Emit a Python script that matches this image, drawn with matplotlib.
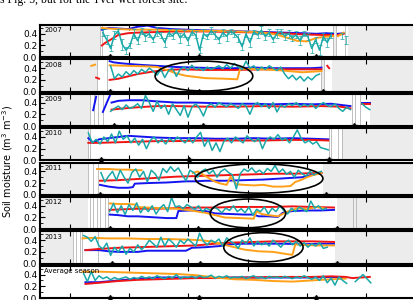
import matplotlib
matplotlib.use('Agg')
import matplotlib.pyplot as plt
from matplotlib.patches import Ellipse
from matplotlib.ticker import MultipleLocator, FixedLocator
import numpy as np

# ---------------- data (x = day of year) ----------------
years = ["2007", "2008", "2009", "2010", "2011", "2012", "2013", "Average season"]

# 2007
b07_x = [93, 100, 110, 120, 130, 140, 150, 165, 180, 200, 220, 240, 260, 280, 300, 315, 325, 332]
b07_y = [0.47, 0.50, 0.49, 0.48, 0.52, 0.54, 0.50, 0.48, 0.47, 0.46, 0.45, 0.44, 0.43, 0.42, 0.41, 0.40, 0.41, 0.40]
r07_x = [93, 96, 100, 105, 110, 120, 130, 150, 170, 200, 230, 260, 280, 300, 320, 332]
r07_y = [0.20, 0.24, 0.28, 0.33, 0.38, 0.41, 0.42, 0.43, 0.44, 0.44, 0.43, 0.42, 0.41, 0.39, 0.38, 0.38]
o07_x = [93, 100, 110, 130, 150, 170, 190, 210, 230, 250, 265, 275, 285, 295, 305, 315, 325, 332]
o07_y = [0.50, 0.49, 0.48, 0.47, 0.47, 0.46, 0.45, 0.45, 0.44, 0.43, 0.41, 0.38, 0.33, 0.28, 0.27, 0.33, 0.35, 0.36]
t07_start, t07_step = 94, 4
t07_y = [0.42, 0.30, 0.15, 0.38, 0.45, 0.22, 0.12, 0.20, 0.40, 0.28, 0.45, 0.35,
         0.40, 0.30, 0.44, 0.38, 0.25, 0.42, 0.36, 0.45, 0.33, 0.40, 0.28, 0.43,
         0.38, 0.12, 0.40, 0.35, 0.45, 0.38, 0.30, 0.42, 0.36, 0.44, 0.40, 0.33,
         0.18, 0.40, 0.25, 0.43, 0.38, 0.46, 0.35, 0.42, 0.30, 0.40, 0.44, 0.36,
         0.40, 0.33, 0.38, 0.28, 0.40, 0.35, 0.15, 0.30, 0.12, 0.35, 0.25, 0.38]
t07_err = [0.06, 0.08, 0.05, 0.07, 0.04, 0.09, 0.06, 0.05, 0.08, 0.06, 0.05, 0.07,
           0.06, 0.04, 0.08, 0.05, 0.07, 0.06, 0.05, 0.04, 0.08, 0.06, 0.07, 0.05,
           0.06, 0.05, 0.08, 0.04, 0.06, 0.07, 0.05, 0.06, 0.08, 0.04, 0.05, 0.07,
           0.06, 0.05, 0.08, 0.04, 0.06, 0.07, 0.05, 0.06, 0.04, 0.08, 0.05, 0.06,
           0.07, 0.05, 0.06, 0.08, 0.04, 0.06, 0.07, 0.05, 0.08, 0.06, 0.07, 0.05]
b07b_x, b07b_y = [337, 343], [0.40, 0.41]
r07b_x, r07b_y = [337, 343], [0.38, 0.40]
o07b_x, o07b_y = [337, 343], [0.36, 0.42]
t07b_x, t07b_y, t07b_e = [341, 345], [0.36, 0.30], [0.05, 0.07]

# 2008
b08_x = [101, 105, 115, 130, 150, 170, 190, 210, 230, 250, 270, 290, 310, 320]
b08_y = [0.52, 0.50, 0.48, 0.46, 0.44, 0.42, 0.41, 0.40, 0.40, 0.41, 0.40, 0.40, 0.40, 0.41]
r08_x = [101, 110, 120, 130, 145, 160, 175, 200, 230, 260, 290, 320]
r08_y = [0.20, 0.22, 0.26, 0.30, 0.34, 0.37, 0.38, 0.37, 0.37, 0.38, 0.38, 0.38]
r08b_x, r08b_y = [87, 90], [0.24, 0.22]
r08c_x, r08c_y = [326, 328], [0.44, 0.40]
o08_x = [101, 120, 140, 150, 160, 170, 180, 200, 220, 233, 236, 240, 260, 280, 300, 320]
o08_y = [0.45, 0.44, 0.43, 0.42, 0.37, 0.31, 0.27, 0.23, 0.22, 0.21, 0.40, 0.39, 0.38, 0.36, 0.33, 0.35]
o08b_x, o08b_y = [82, 86], [0.44, 0.46]
t08_start, t08_step = 102, 4
t08_y = [0.44, 0.22, 0.30, 0.25, 0.34, 0.28, 0.36, 0.30, 0.38, 0.33,
         0.40, 0.35, 0.28, 0.38, 0.24, 0.36, 0.40, 0.26, 0.38, 0.42,
         0.36, 0.45, 0.38, 0.40, 0.36, 0.42, 0.38, 0.41, 0.44, 0.39,
         0.46, 0.40, 0.48, 0.42, 0.38, 0.52, 0.40, 0.44, 0.36, 0.42,
         0.38, 0.44, 0.40, 0.36, 0.42, 0.30, 0.22, 0.28, 0.20, 0.26,
         0.18, 0.25, 0.20, 0.27, 0.30]

# 2009
b09a_x, b09a_y = [84, 87], [0.27, 0.50]
b09b_x, b09b_y = [94, 102], [0.24, 0.55]
b09_x = [103, 110, 120, 135, 150, 170, 190, 210, 230, 250, 270, 290, 310, 330, 350]
b09_y = [0.40, 0.43, 0.44, 0.44, 0.42, 0.40, 0.40, 0.39, 0.38, 0.38, 0.37, 0.38, 0.37, 0.38, 0.34]
b09c_x, b09c_y = [362, 370], [0.40, 0.40]
r09_x = [103, 115, 130, 150, 170, 200, 230, 260, 290, 320, 340, 350]
r09_y = [0.28, 0.30, 0.32, 0.34, 0.34, 0.33, 0.33, 0.34, 0.33, 0.34, 0.33, 0.30]
r09c_x, r09c_y = [362, 370], [0.37, 0.37]
t09_start, t09_step = 102, 4
t09_y = [0.25, 0.30, 0.34, 0.28, 0.36, 0.30, 0.33, 0.38, 0.30, 0.52,
         0.40, 0.25, 0.42, 0.30, 0.36, 0.20, 0.38, 0.28, 0.18, 0.35,
         0.15, 0.32, 0.38, 0.30, 0.17, 0.34, 0.38, 0.32, 0.40, 0.36,
         0.33, 0.38, 0.35, 0.30, 0.38, 0.34, 0.20, 0.36, 0.40, 0.33,
         0.38, 0.30, 0.40, 0.24, 0.36, 0.32, 0.38, 0.35, 0.40, 0.33,
         0.37, 0.34, 0.38, 0.30, 0.36, 0.40, 0.35, 0.33, 0.38, 0.30,
         0.25, 0.32, 0.28]
t09c_x, t09c_y = [362, 366, 370], [0.38, 0.32, 0.28]

# 2010
b10_x = [79, 84, 90, 100, 110, 120, 130, 150, 170, 190, 210, 230, 250, 270, 290, 310, 327]
b10_y = [0.38, 0.30, 0.36, 0.38, 0.40, 0.42, 0.41, 0.39, 0.38, 0.38, 0.37, 0.37, 0.38, 0.37, 0.38, 0.37, 0.36]
r10_x = [79, 90, 110, 130, 150, 170, 200, 230, 260, 290, 310, 327]
r10_y = [0.30, 0.30, 0.31, 0.32, 0.33, 0.33, 0.34, 0.34, 0.34, 0.35, 0.35, 0.34]
t10_start, t10_step = 79, 4
t10_y = [0.47, 0.30, 0.36, 0.28, 0.40, 0.32, 0.45, 0.30, 0.50, 0.36,
         0.42, 0.30, 0.38, 0.26, 0.36, 0.20, 0.34, 0.40, 0.30, 0.36,
         0.28, 0.38, 0.32, 0.40, 0.35, 0.30, 0.38, 0.30, 0.40, 0.48,
         0.24, 0.36, 0.17, 0.30, 0.15, 0.32, 0.38, 0.30, 0.40, 0.35,
         0.30, 0.42, 0.36, 0.32, 0.38, 0.20, 0.35, 0.40, 0.36, 0.44,
         0.35, 0.38, 0.30, 0.40, 0.52, 0.38, 0.30, 0.34, 0.28, 0.32,
         0.22, 0.20, 0.18]

# 2011
b11_x = [91, 100, 110, 120, 125, 127, 140, 160, 180, 190, 200, 220, 240, 260, 280, 300, 310, 320]
b11_y = [0.17, 0.14, 0.12, 0.12, 0.13, 0.19, 0.20, 0.21, 0.23, 0.23, 0.24, 0.24, 0.25, 0.26, 0.28, 0.30, 0.34, 0.37]
r11_x = [91, 110, 130, 150, 170, 190, 210, 230, 250, 270, 290, 310, 320]
r11_y = [0.24, 0.25, 0.27, 0.29, 0.31, 0.32, 0.33, 0.34, 0.35, 0.36, 0.36, 0.37, 0.37]
o11a_x = [88, 100, 110, 120, 130, 134]
o11a_y = [0.44, 0.44, 0.43, 0.43, 0.42, 0.42]
o11b_x = [187, 192, 196, 202, 208, 214, 219, 222, 226, 232, 240, 250, 260, 270, 280, 288, 293, 300, 305, 312, 320]
o11b_y = [0.37, 0.40, 0.36, 0.30, 0.24, 0.20, 0.18, 0.17, 0.31, 0.18, 0.17, 0.16, 0.17, 0.14, 0.14, 0.15, 0.22, 0.26, 0.30, 0.34, 0.37]
t11_start, t11_step = 92, 4
t11_y = [0.38, 0.22, 0.32, 0.40, 0.25, 0.42, 0.30, 0.20, 0.38, 0.44,
         0.30, 0.40, 0.22, 0.42, 0.36, 0.25, 0.45, 0.38, 0.48, 0.40,
         0.46, 0.34, 0.24, 0.42, 0.38, 0.30, 0.40, 0.44, 0.36, 0.42,
         0.30, 0.40, 0.44, 0.38, 0.34, 0.10, 0.36, 0.44, 0.40, 0.46,
         0.38, 0.42, 0.36, 0.45, 0.40, 0.50, 0.38, 0.44, 0.35, 0.40,
         0.30, 0.42, 0.36, 0.32, 0.40, 0.34, 0.38, 0.40]

# 2012
b12_x = [101, 110, 120, 130, 140, 150, 160, 170, 172, 185, 200, 210, 225, 240, 250, 255, 265, 275, 280, 290, 305, 320, 333]
b12_y = [0.25, 0.24, 0.22, 0.22, 0.21, 0.20, 0.19, 0.19, 0.31, 0.32, 0.31, 0.27, 0.26, 0.25, 0.25, 0.22, 0.22, 0.21, 0.28, 0.31, 0.32, 0.32, 0.33]
r12_x = [101, 115, 130, 150, 170, 190, 210, 230, 250, 270, 290, 310, 333]
r12_y = [0.33, 0.34, 0.35, 0.35, 0.36, 0.37, 0.37, 0.38, 0.38, 0.38, 0.39, 0.38, 0.37]
o12a_x = [101, 110, 120, 128]
o12a_y = [0.44, 0.43, 0.43, 0.42]
o12b_x = [128, 140, 155, 170, 185, 200, 210, 220, 235, 250, 253, 258, 265, 275, 285, 295, 305, 315, 322]
o12b_y = [0.38, 0.37, 0.36, 0.35, 0.32, 0.28, 0.24, 0.20, 0.19, 0.18, 0.31, 0.26, 0.24, 0.22, 0.30, 0.36, 0.34, 0.38, 0.36]
t12_start, t12_step = 101, 4
t12_y = [0.30, 0.44, 0.28, 0.40, 0.25, 0.42, 0.32, 0.45, 0.28, 0.38,
         0.30, 0.40, 0.26, 0.36, 0.42, 0.30, 0.54, 0.38, 0.40, 0.35,
         0.42, 0.38, 0.34, 0.40, 0.30, 0.36, 0.32, 0.38, 0.34, 0.28,
         0.36, 0.32, 0.40, 0.30, 0.35, 0.28, 0.38, 0.24, 0.34, 0.30,
         0.38, 0.26, 0.36, 0.30, 0.40, 0.32, 0.26, 0.36, 0.30, 0.38,
         0.34, 0.30, 0.48, 0.36, 0.40, 0.33, 0.36]

# 2013
b13_x = [76, 90, 100, 110, 130, 140, 160, 180, 186, 200, 215, 225, 240, 260, 280, 300, 320, 333]
b13_y = [0.23, 0.23, 0.21, 0.20, 0.20, 0.22, 0.22, 0.22, 0.27, 0.28, 0.30, 0.33, 0.34, 0.34, 0.34, 0.33, 0.34, 0.34]
r13_x = [76, 90, 110, 130, 150, 170, 190, 210, 230, 250, 270, 290, 310, 333]
r13_y = [0.23, 0.25, 0.27, 0.28, 0.29, 0.30, 0.31, 0.34, 0.36, 0.37, 0.38, 0.38, 0.38, 0.37]
o13_x = [73, 80, 100, 120, 140, 160, 180, 195, 205, 215, 225, 240, 255, 270, 285, 290, 293, 300, 315, 333]
o13_y = [0.43, 0.44, 0.43, 0.43, 0.42, 0.42, 0.41, 0.40, 0.38, 0.34, 0.30, 0.24, 0.21, 0.20, 0.16, 0.15, 0.33, 0.32, 0.31, 0.31]
t13_start, t13_step = 74, 4
t13_y = [0.48, 0.45, 0.38, 0.46, 0.30, 0.25, 0.35, 0.14, 0.28, 0.20,
         0.30, 0.16, 0.26, 0.20, 0.32, 0.24, 0.30, 0.40, 0.34, 0.28,
         0.45, 0.30, 0.42, 0.36, 0.28, 0.40, 0.34, 0.42, 0.36, 0.30,
         0.52, 0.38, 0.32, 0.40, 0.36, 0.42, 0.30, 0.44, 0.38, 0.34,
         0.26, 0.40, 0.34, 0.44, 0.30, 0.38, 0.32, 0.36, 0.30, 0.40,
         0.34, 0.28, 0.36, 0.40, 0.32, 0.38, 0.30, 0.36, 0.28, 0.34,
         0.30, 0.36, 0.26, 0.28]

# Average season
bav_x = [76, 90, 110, 130, 150, 170, 190, 210, 230, 250, 270, 290, 310, 330, 345]
bav_y = [0.27, 0.27, 0.30, 0.33, 0.35, 0.35, 0.35, 0.34, 0.35, 0.35, 0.35, 0.35, 0.35, 0.36, 0.35]
rav_x = [76, 90, 110, 130, 150, 170, 190, 210, 230, 250, 270, 290, 310, 330, 345, 352, 360, 370]
rav_y = [0.24, 0.26, 0.29, 0.31, 0.32, 0.33, 0.34, 0.34, 0.35, 0.35, 0.36, 0.36, 0.36, 0.37, 0.36, 0.34, 0.35, 0.36]
oav_x = [73, 90, 110, 130, 150, 170, 190, 210, 230, 250, 270, 290, 310, 330, 345]
oav_y = [0.45, 0.45, 0.44, 0.43, 0.42, 0.41, 0.39, 0.35, 0.32, 0.31, 0.29, 0.28, 0.30, 0.32, 0.33]
tav_start, tav_step = 74, 4
tav_y = [0.42, 0.28, 0.45, 0.30, 0.38, 0.33, 0.36, 0.31, 0.35, 0.32,
         0.34, 0.36, 0.32, 0.35, 0.33, 0.37, 0.34, 0.36, 0.33, 0.38,
         0.35, 0.33, 0.37, 0.34, 0.40, 0.33, 0.36, 0.35, 0.37, 0.34,
         0.38, 0.35, 0.36, 0.39, 0.34, 0.37, 0.35, 0.38, 0.34, 0.36,
         0.35, 0.37, 0.33, 0.36, 0.38, 0.34, 0.36, 0.33, 0.37, 0.35,
         0.36, 0.34, 0.37, 0.35, 0.33, 0.36, 0.34, 0.38, 0.35, 0.32,
         0.36, 0.30, 0.38, 0.26, 0.34, 0.22, 0.36, 0.30, 0.25]
tav2_x, tav2_y = [355, 359, 363, 367, 371], [0.28, 0.34, 0.40, 0.33, 0.26]

# grey (frozen / no data) periods, thin grey lines, stars, ellipses
grey_spans = [[(29, 91), (332, 335), (347, 480)],
              [(29, 88), (319.5, 323), (331, 480)],
              [(29, 81), (370, 480)],
              [(29, 79), (341, 480)],
              [(29, 79), (321.6, 480)],
              [(29, 79), (336, 480)],
              [(29, 63.5), (334, 480)],
              []]
grey_lines = [[91, 93, 332, 335, 344],
              [88, 98, 319.5, 323],
              [81, 85, 89, 94, 351.6, 354.7, 359.8],
              [79, 80.5, 327.8, 330, 337, 341],
              [79, 84, 89],
              [81, 84, 88, 91, 96, 99, 352.6, 355.7],
              [63.5, 66, 70, 72.5, 89],
              []]
stars = [[101.3, 193.4, 314.3],
         [101.3, 193.4, 321.6],
         [105.5, 197.5, 353.6],
         [92, 183, 327.8],
         [91, 183, 324.7],
         [101.3, 192.3, 336],
         [103.4, 194.4, 336],
         [101.3, 193.4, 314.3]]
ellipses = {1: (198.5, 0.265, 101, 0.51),
            4: (255.5, 0.278, 132, 0.50),
            5: (244.0, 0.270, 78, 0.49),
            6: (260.0, 0.278, 82, 0.50)}

BLUE = '#1414f0'
RED = '#f01414'
ORANGE = '#ffa018'
TEAL = '#1aa8a8'

def tx(start, step, vals):
    return np.arange(len(vals)) * step + start

panels = [
    dict(blue=[(b07_x, b07_y), (b07b_x, b07b_y)], red=[(r07_x, r07_y), (r07b_x, r07b_y)],
         orange=[(o07_x, o07_y), (o07b_x, o07b_y)], teal=[(tx(t07_start, t07_step, t07_y), t07_y)],
         err=[(tx(t07_start, t07_step, t07_y), t07_y, t07_err), (t07b_x, t07b_y, t07b_e)]),
    dict(blue=[(b08_x, b08_y)], red=[(r08_x, r08_y), (r08b_x, r08b_y), (r08c_x, r08c_y)],
         orange=[(o08_x, o08_y), (o08b_x, o08b_y)], teal=[(tx(t08_start, t08_step, t08_y), t08_y)]),
    dict(blue=[(b09a_x, b09a_y), (b09b_x, b09b_y), (b09_x, b09_y), (b09c_x, b09c_y)],
         red=[(r09_x, r09_y), (r09c_x, r09c_y)], orange=[],
         teal=[(tx(t09_start, t09_step, t09_y), t09_y), (t09c_x, t09c_y)]),
    dict(blue=[(b10_x, b10_y)], red=[(r10_x, r10_y)], orange=[],
         teal=[(tx(t10_start, t10_step, t10_y), t10_y)]),
    dict(blue=[(b11_x, b11_y)], red=[(r11_x, r11_y)], orange=[(o11a_x, o11a_y), (o11b_x, o11b_y)],
         teal=[(tx(t11_start, t11_step, t11_y), t11_y)]),
    dict(blue=[(b12_x, b12_y)], red=[(r12_x, r12_y)], orange=[(o12a_x, o12a_y), (o12b_x, o12b_y)],
         teal=[(tx(t12_start, t12_step, t12_y), t12_y)]),
    dict(blue=[(b13_x, b13_y)], red=[(r13_x, r13_y)], orange=[(o13_x, o13_y)],
         teal=[(tx(t13_start, t13_step, t13_y), t13_y)]),
    dict(blue=[(bav_x, bav_y)], red=[(rav_x, rav_y)], orange=[(oav_x, oav_y)],
         teal=[(tx(tav_start, tav_step, tav_y), tav_y), (tav2_x, tav2_y)]),
]

# ---------------- figure ----------------
W, H = 413, 300
fig = plt.figure(figsize=(W / 100, H / 100), dpi=100)

left = 40 / W
ax_w = (470 - 40) / W
top = 1 - 25 / H
bottom = 1 - 298 / H
gap = 2.2 / H
ph = (top - bottom - 7 * gap) / 8
XMIN, XMAX = 29, 473.6
xticks = [60, 121, 182, 244, 305, 366]

for i, (lab, p) in enumerate(zip(years, panels)):
    y0 = top - (i + 1) * ph - i * gap
    ax = fig.add_axes([left, y0, ax_w, ph])
    ax.set_xlim(XMIN, XMAX)
    ax.set_ylim(0, 0.55)
    for a, b in grey_spans[i]:
        ax.axvspan(a, b, color='#ececec', lw=0, zorder=0)
    for xl in grey_lines[i]:
        ax.axvline(xl, color='#b4b4b4', lw=0.6, zorder=0.5)
    for xs, ys in p['blue']:
        ax.plot(xs, ys, color=BLUE, lw=1.4, zorder=2)
    for xs, ys in p['red']:
        ax.plot(xs, ys, color=RED, lw=1.4, zorder=2.1)
    for xs, ys in p['orange']:
        ax.plot(xs, ys, color=ORANGE, lw=1.4, zorder=2.2)
    for xs, ys, es in p.get('err', []):
        ax.errorbar(xs, ys, yerr=es, fmt='none', ecolor=TEAL, elinewidth=0.5,
                    capsize=1.5, capthick=0.5, zorder=2.3)
    for xs, ys in p['teal']:
        ax.plot(xs, ys, color=TEAL, lw=1.1, zorder=2.4)
    if i in ellipses:
        cx, cy, ew, eh = ellipses[i]
        ax.add_patch(Ellipse((cx, cy), ew, eh, fill=False, ec='k', lw=1.2, zorder=5))
    ax.plot(stars[i], [0.0] * len(stars[i]), ls='none', marker='*', color='k',
            ms=4.5, clip_on=False, zorder=6)
    ax.text(0.01, 0.93, lab, transform=ax.transAxes, fontsize=5, va='top', ha='left', zorder=7)

    ax.xaxis.set_major_locator(FixedLocator(xticks))
    ax.set_xticklabels([])
    ax.yaxis.set_major_locator(FixedLocator([0.0, 0.2, 0.4]))
    ax.yaxis.set_minor_locator(MultipleLocator(0.1))
    ax.set_yticklabels(['0.0', '0.2', '0.4'])
    ax.tick_params(axis='both', which='major', direction='in', length=3.5, width=0.8,
                   top=True, right=False, labelsize=6.5, pad=2)
    ax.tick_params(axis='y', which='minor', direction='in', length=2, width=0.6)
    for s in ax.spines.values():
        s.set_linewidth(1.5)

fig.text(8 / W, (top + bottom) / 2, 'Soil moisture (m$^3$ m$^{-3}$)', rotation=90,
         va='center', ha='center', fontsize=7)
fig.text(0.0, 1 - 3.5 / H, 's Fig. 5, but for the Tver wet forest site.',
         family='Liberation Serif', fontsize=8.5, va='baseline', ha='left')

fig.savefig('out.png', dpi=100)
